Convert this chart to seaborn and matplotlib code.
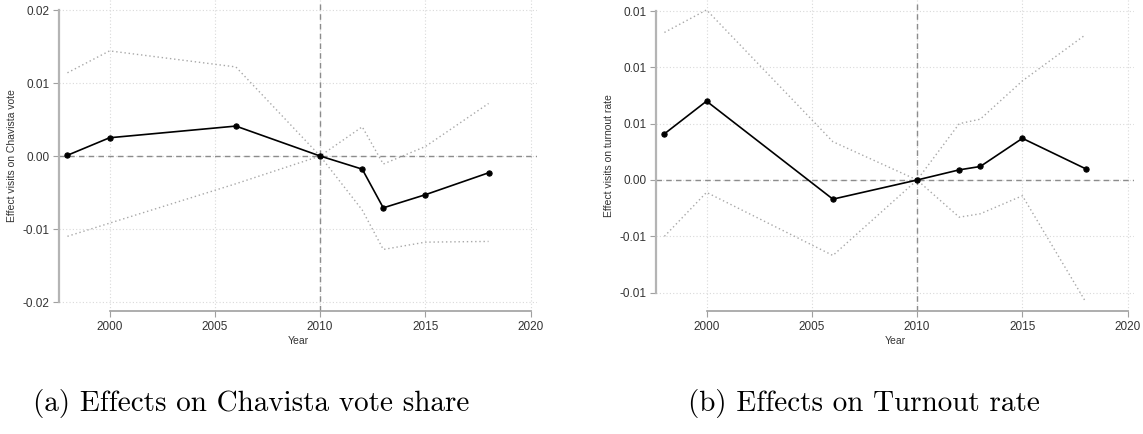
import matplotlib
matplotlib.use("Agg")
import matplotlib.pyplot as plt
import pandas as pd
import seaborn as sns

years = [1998, 2000, 2006, 2010, 2012, 2013, 2015, 2018]

# (a) Chavista vote share
vote_est = [0.0001, 0.0025, 0.0041, 0.0, -0.0018, -0.0071, -0.0053, -0.0023]
vote_hi = [0.0114, 0.0144, 0.0122, 0.0, 0.0040, -0.0011, 0.0013, 0.0072]
vote_lo = [-0.0110, -0.0092, -0.0038, 0.0, -0.0074, -0.0128, -0.0118, -0.0117]

# (b) Turnout rate
turn_est = [0.0041, 0.0070, -0.0017, 0.0, 0.0009, 0.0012, 0.0037, 0.0010]
turn_hi = [0.0131, 0.0151, 0.0034, 0.0, 0.0050, 0.0054, 0.0088, 0.0129]
turn_lo = [-0.0050, -0.0011, -0.0067, 0.0, -0.0033, -0.0030, -0.0014, -0.0108]

x_ticks = [2000, 2005, 2010, 2015, 2020]
vote_yticks = [-0.02, -0.01, 0.0, 0.01, 0.02]
vote_ylabels = ["-0.02", "-0.01", "0.00", "0.01", "0.02"]
turn_yticks = [-0.010, -0.005, 0.0, 0.005, 0.010, 0.015]
turn_ylabels = ["-0.01", "-0.01", "0.00", "0.01", "0.01", "0.01"]

sns.set_theme(style="white")
plt.rcParams["font.family"] = ["Liberation Sans", "DejaVu Sans"]

fig = plt.figure(figsize=(11.43, 4.34), dpi=100)
W, H = 1143, 434


def px_axes(x0, x1, y_top, y_bot):
    return fig.add_axes([x0 / W, (H - y_bot) / H, (x1 - x0) / W, (y_bot - y_top) / H])


def panel(ax, est, hi, lo, yticks, ylabels, ylim, ylabel):
    df = pd.DataFrame({"Year": years, "est": est, "hi": hi, "lo": lo})
    ax.set_xlim(1997.6, 2020.3)
    ax.set_ylim(*ylim)
    # grid
    for t in x_ticks:
        ax.axvline(t, color="#d9d9d9", lw=0.8, ls=(0, (1, 2)), zorder=0)
    for t in yticks:
        ax.axhline(t, color="#d9d9d9", lw=0.8, ls=(0, (1, 2)), zorder=0)
    ax.axhline(0, color="#8c8c8c", lw=1.0, ls=(0, (4, 3)), zorder=1)
    ax.axvline(2010, color="#8c8c8c", lw=1.0, ls=(0, (4, 3)), zorder=1)
    sns.lineplot(data=df, x="Year", y="hi", ax=ax, color="#a8a8a8", lw=1.0,
                 linestyle=(0, (1, 2)), zorder=2)
    sns.lineplot(data=df, x="Year", y="lo", ax=ax, color="#a8a8a8", lw=1.0,
                 linestyle=(0, (1, 2)), zorder=2)
    sns.lineplot(data=df, x="Year", y="est", ax=ax, color="black", lw=1.2,
                 marker="o", markersize=3.8, markeredgecolor="black", zorder=3)
    ax.set_xticks(x_ticks)
    ax.set_xticklabels([str(t) for t in x_ticks], fontsize=8.5, color="#333333")
    ax.set_yticks(yticks)
    ax.set_yticklabels(ylabels, fontsize=8.5, color="#333333")
    ax.set_xlabel("Year", fontsize=7.5, color="#333333", labelpad=2)
    ax.set_ylabel(ylabel, fontsize=7.5, color="#333333", labelpad=4)
    ax.spines["top"].set_visible(False)
    ax.spines["right"].set_visible(False)
    ax.spines["left"].set_bounds(yticks[0], yticks[-1])
    ax.spines["bottom"].set_bounds(x_ticks[0], x_ticks[-1])
    ax.spines["left"].set_color("#b4b4b4")
    ax.spines["left"].set_linewidth(1.6)
    ax.spines["bottom"].set_color("#a0a0a0")
    ax.spines["bottom"].set_linewidth(1.2)
    ax.tick_params(axis="both", direction="out", length=4, width=0.8,
                   color="#a0a0a0", pad=3, left=True, bottom=True)


ax1 = px_axes(59, 537, 0, 311)
panel(ax1, vote_est, vote_hi, vote_lo, vote_yticks, vote_ylabels,
      (-0.02123, 0.02137), "Effect visits on Chavista vote")

ax2 = px_axes(656, 1134, 0, 311)
panel(ax2, turn_est, turn_hi, turn_lo, turn_yticks, turn_ylabels,
      (-0.01163, 0.01598), "Effect visits on turnout rate")

fig.text(251 / W, 1 - 404 / H, "(a) Effects on Chavista vote share",
         family="cmr10", fontsize=21, ha="center", va="center", color="black")
fig.text(864 / W, 1 - 404 / H, "(b) Effects on Turnout rate",
         family="cmr10", fontsize=21, ha="center", va="center", color="black")

fig.savefig("out.png", dpi=100)
